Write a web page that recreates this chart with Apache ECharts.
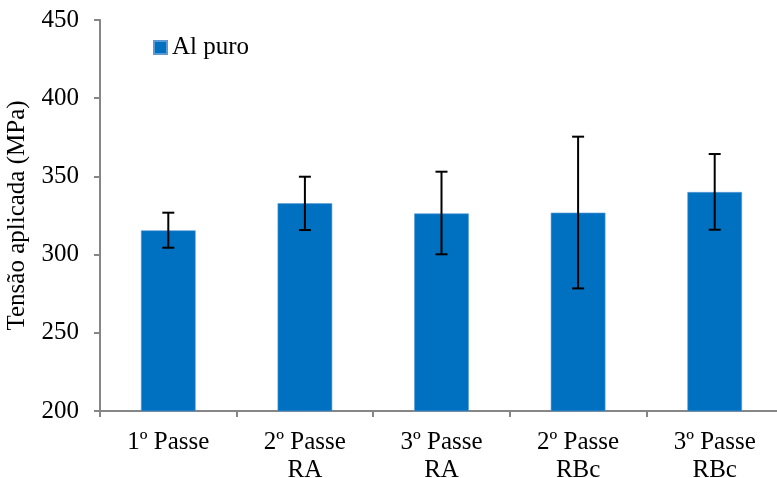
<!DOCTYPE html>
<html><head><meta charset="utf-8">
<script src="https://cdn.jsdelivr.net/npm/echarts@6/dist/echarts.min.js"></script>
<style>html,body{margin:0;padding:0;background:#fff}#c{width:777px;height:478px}</style>
</head><body><div id="c"></div>
<script>
var categories = ['1º Passe', '2º Passe\nRA', '3º Passe\nRA', '2º Passe\nRBc', '3º Passe\nRBc'];
var values = [315.5, 332.8, 326.3, 326.8, 340.0];
var errLow = [304.4, 315.7, 300.2, 278.4, 315.9];
var errHigh = [326.8, 349.8, 353.0, 375.4, 364.3];
var yTicks = [200, 250, 300, 350, 400, 450];

var chart = echarts.init(document.getElementById('c'));
var font = 'Liberation Serif';
chart.setOption({
  animation: false,
  legend: {
    data: ['Al puro'], left: 148, top: 30, itemWidth: 13, itemHeight: 13, itemGap: 6,
    icon: 'rect',
    textStyle: {fontFamily: font, fontSize: 25, color: '#000'}
  },
  grid: {left: 100, top: 20, width: 683, height: 391, outerBoundsMode: 'none', containLabel: false},
  xAxis: {
    type: 'category', data: categories,
    axisLine: {lineStyle: {color: '#868686', width: 2}},
    axisTick: {show: true, length: 6, lineStyle: {color: '#868686', width: 2}},
    axisLabel: {fontFamily: font, fontSize: 25, color: '#000', margin: 17, lineHeight: 28}
  },
  yAxis: {
    type: 'value', min: 200, max: 450, interval: 50,
    name: 'Tensão aplicada (MPa)', nameLocation: 'middle', nameGap: 70, nameRotate: 90,
    nameTextStyle: {fontFamily: font, fontSize: 25, color: '#000'},
    axisLine: {show: true, lineStyle: {color: '#868686', width: 2}},
    axisTick: {show: true, length: 6, lineStyle: {color: '#868686', width: 2}},
    splitLine: {show: false},
    axisLabel: {fontFamily: font, fontSize: 25, color: '#000', margin: 21,
      formatter: function (v) { return yTicks.indexOf(v) >= 0 ? String(v) : ''; }}
  },
  series: [{
    name: 'Al puro', type: 'bar', data: values, barWidth: '40%',
    itemStyle: {color: '#0070C0', borderColor: '#5b9bd5', borderWidth: 0.6}
  }, {
    type: 'custom', name: 'err', silent: true,
    data: categories.map(function (c, i) { return [i, errLow[i], errHigh[i]]; }),
    renderItem: function (params, api) {
      var x = api.coord([api.value(0), api.value(1)])[0];
      var lo = api.coord([api.value(0), api.value(1)])[1];
      var hi = api.coord([api.value(0), api.value(2)])[1];
      var hw = 6;
      var st = {stroke: '#000', lineWidth: 2};
      return {type: 'group', children: [
        {type: 'line', shape: {x1: x, y1: lo, x2: x, y2: hi}, style: st},
        {type: 'line', shape: {x1: x - hw, y1: lo, x2: x + hw, y2: lo}, style: st},
        {type: 'line', shape: {x1: x - hw, y1: hi, x2: x + hw, y2: hi}, style: st}
      ]};
    },
    z: 10
  }]
});
</script></body></html>
